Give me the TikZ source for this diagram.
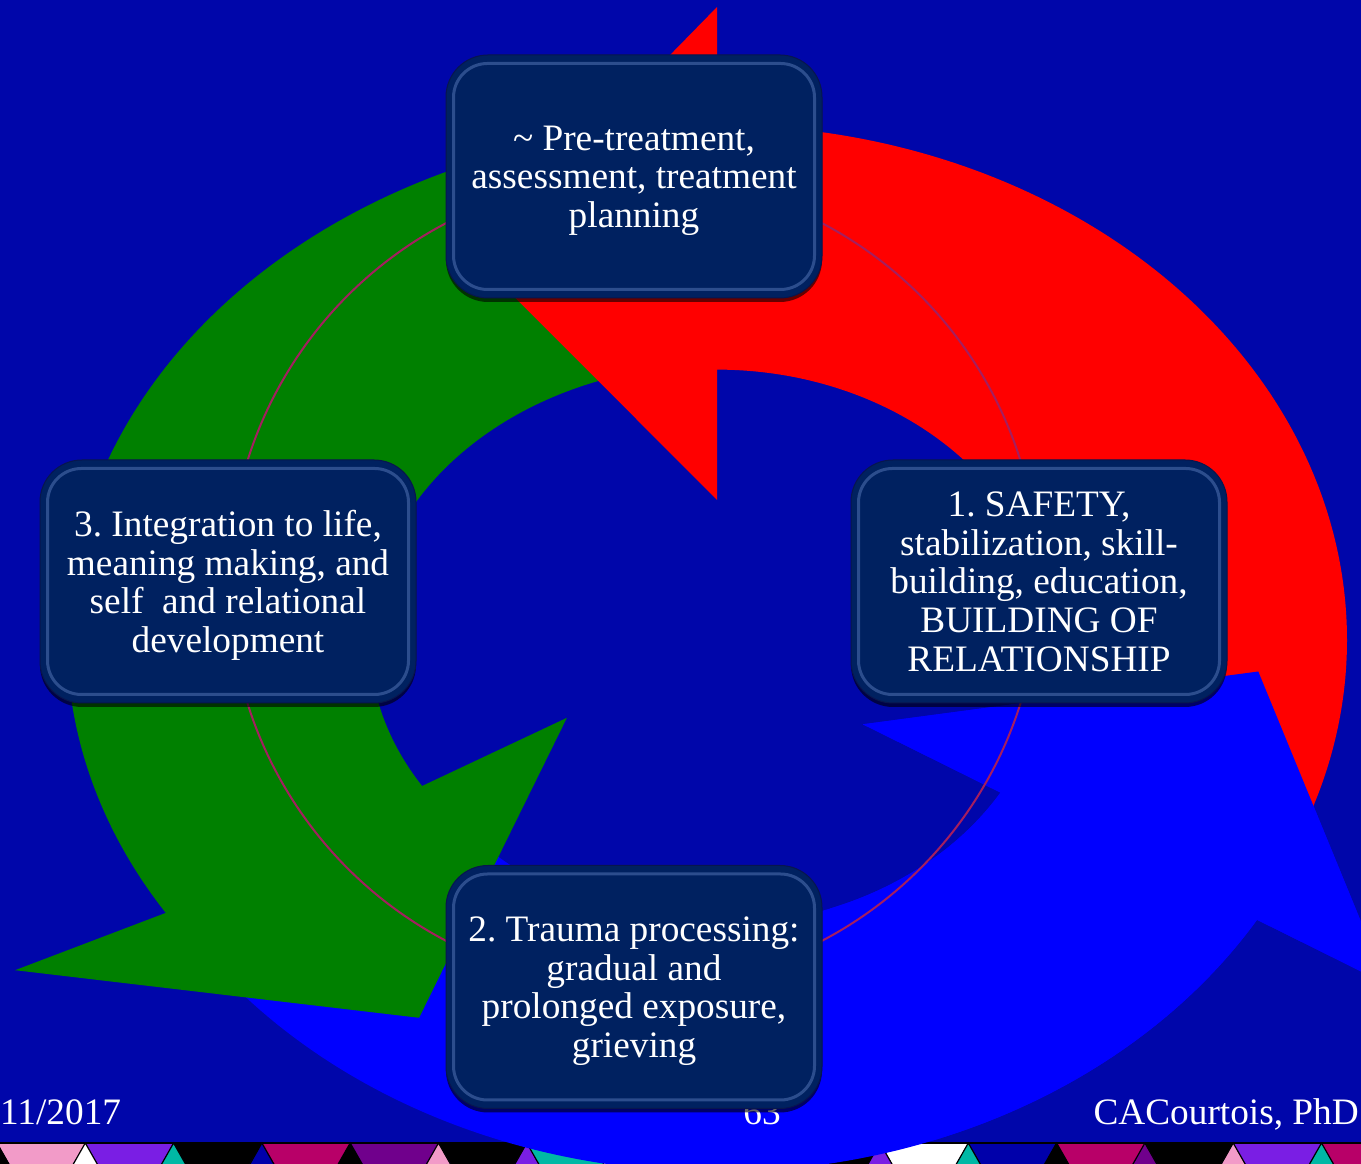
\documentclass[tikz,border=0pt]{standalone}
\usepackage{fontspec}
\setmainfont{Liberation Serif}
\usepackage{xcolor}
\usepackage{tikz}
\usetikzlibrary{shadows}

\definecolor{slidebg}{RGB}{0,6,170}
\definecolor{arrowred}{RGB}{255,0,0}
\definecolor{arrowblue}{RGB}{0,0,255}
\definecolor{arrowgreen}{RGB}{0,128,0}
\definecolor{ringline}{RGB}{165,30,95}
\definecolor{stagefill}{RGB}{0,33,96}
\definecolor{stageedge}{RGB}{8,22,78}
\definecolor{bevelblue}{RGB}{110,145,210}
\definecolor{stripPink}{RGB}{242,155,200}
\definecolor{stripPurple}{RGB}{122,30,228}
\definecolor{stripTeal}{RGB}{0,184,165}
\definecolor{stripCrimson}{RGB}{184,0,104}
\definecolor{stripPlum}{RGB}{112,0,140}
\definecolor{stripNavy}{RGB}{0,0,170}

\newcommand\stagefont{\fontsize{37.3}{38.6}\selectfont\frenchspacing}

\begin{document}
\begin{tikzpicture}[x=1pt, y=1pt,
    stage/.style={draw=stageedge, line width=1pt, fill=stagefill, rounded corners=42pt,
      minimum width=376pt, minimum height=243pt, inner sep=0pt, align=center,
      text=white, font=\stagefont, text depth=0pt,
      drop shadow={shadow xshift=0pt, shadow yshift=-4pt, opacity=0.6, fill=black}},
    bevel/.style={draw=bevelblue, line width=3pt, rounded corners=34pt, opacity=0.4},
    footer/.style={text=white, font=\stagefont, inner sep=0pt},
    redframe/.style={shift={(717,524)}, xscale=630, yscale=515},
    greenframe/.style={shift={(717,524)}, xscale=650, yscale=515},
    blueframe/.style={shift={(717,512)}, xscale=630, yscale=520}]
    \useasboundingbox (0,0) rectangle (1361,1164);
    \clip (0,0) rectangle (1361,1164);
    \fill[slidebg] (0,0) rectangle (1361,1164);

    \foreach \k/\sc/\tc in {0/stripPink/black, 1/stripPurple/white, 2/black/stripTeal,
        3/stripCrimson/stripNavy, 4/stripPlum/black, 5/black/stripPink, 6/stripTeal/stripPurple,
        7/stripCrimson/white, 8/stripPlum/stripTeal, 9/black/stripPink, 10/white/stripPurple,
        11/stripNavy/stripTeal, 12/stripCrimson/black, 13/black/stripPlum, 14/stripPurple/stripPink,
        15/stripCrimson/stripTeal, 16/black/black} {
      \pgfmathsetmacro\xa{88.3*\k-3}
      \pgfmathsetmacro\xb{88.3*\k+85.3}
      \fill[\sc] (\xa,21) -- (\xb,21) -- (\xb-12.5,0) -- (\xa+12.5,0) -- cycle;
      \filldraw[fill=\tc, draw=black, line width=1.2pt] (\xa,21) -- (\xa+12.5,-1) -- (\xa-12.5,-1) -- cycle;
    }
    \draw[black, line width=2pt] (0,21) -- (1361,21);

    \begin{scope}[blueframe]
      \fill[arrowblue] (220:1) arc[start angle=220, end angle=329, radius=1] -- (329:1.24)
        -- (357.5:0.86) -- (329:0.27) -- (329:0.525) arc[start angle=329, end angle=220, radius=0.525] -- cycle;
    \end{scope}
    \begin{scope}[greenframe]
      \fill[arrowgreen] (100:1) arc[start angle=100, end angle=212, radius=1] -- (210.7:1.256)
        -- (238:0.865) -- (213.2:0.276) -- (212:0.535) arc[start angle=212, end angle=100, radius=0.535] -- cycle;
    \end{scope}
    \begin{scope}[redframe]
      \fill[arrowred] (-25:1) arc[start angle=-25, end angle=90, radius=1] -- (90:1.229)
        -- (117.4:0.84) -- (90:0.272) -- (90:0.525) arc[start angle=90, end angle=-25, radius=0.525] -- cycle;
    \end{scope}
    \begin{scope}[blueframe]
      \fill[arrowblue] (290:1) arc[start angle=290, end angle=329, radius=1] -- (329:1.24)
        -- (357.5:0.86) -- (329:0.27) -- (329:0.525) arc[start angle=329, end angle=290, radius=0.525] -- cycle;
    \end{scope}

    \node[footer, anchor=base west] (date) at (0,39) {11/2017};
    \node[footer, anchor=base] (page) at (762,39) {63};
    \node[footer, anchor=base east] (author) at (1359,39) {CACourtois, PhD};

    \draw[ringline, line width=2pt] (634,582) circle[radius=405];

    \node[stage] (pretreat) at (634,987.5) {\textasciitilde{} Pre-treatment,\\assessment, treatment\\planning};
    \node[stage] (safety) at (1039,582.5) {1. SAFETY,\\stabilization, skill-\\building, education,\\BUILDING OF\\RELATIONSHIP};
    \node[stage] (trauma) at (634,177) {2. Trauma processing:\\gradual and\\prolonged exposure,\\grieving};
    \node[stage] (integrate) at (228,582.5) {3. Integration to life,\\meaning making, and\\self\ \ and relational\\development};
    \foreach \n in {pretreat,safety,trauma,integrate}
      \draw[bevel] ([shift={(8,9)}]\n.south west) rectangle ([shift={(-8,-9)}]\n.north east);
\end{tikzpicture}
\end{document}
